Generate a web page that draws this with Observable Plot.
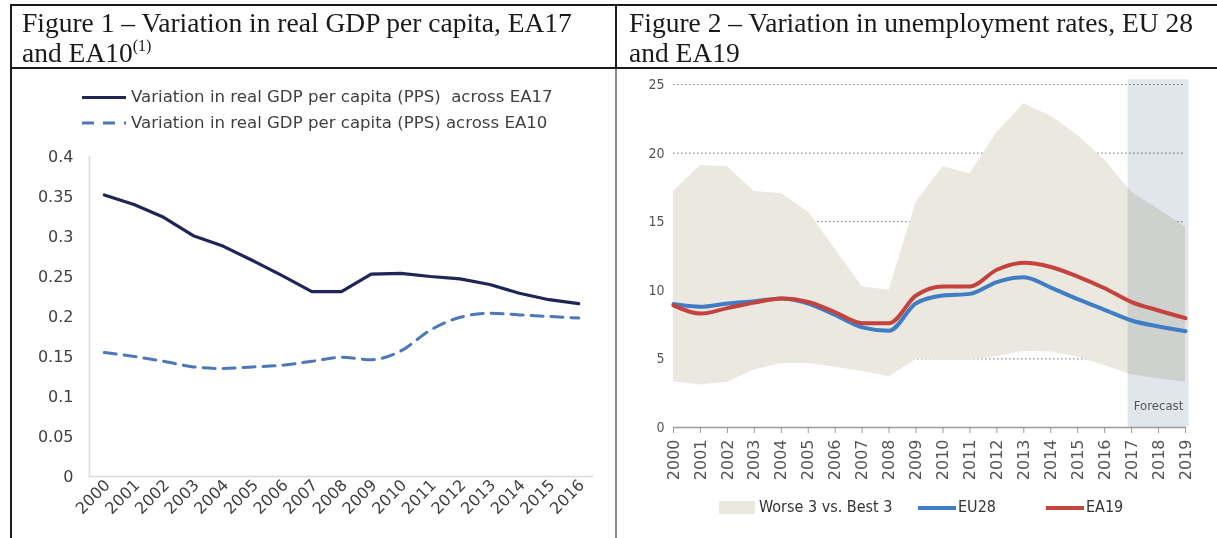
<!DOCTYPE html>
<html><head><meta charset="utf-8">
<script src="https://cdn.jsdelivr.net/npm/d3@7"></script>
<script src="https://cdn.jsdelivr.net/npm/@observablehq/plot@0.6"></script>
<style>
body{margin:0;background:#fff;}
#page{position:relative;width:1217px;height:538px;overflow:hidden;background:#fff;}
.abs{position:absolute;}
.hdr{position:absolute;font-family:"Liberation Serif","Times New Roman",serif;font-size:27.5px;line-height:30px;color:#1a1a1a;white-space:nowrap;}
.sup{font-size:16px;position:relative;top:-11px;line-height:0;}
.lgL{position:absolute;font-family:"DejaVu Sans",Verdana,sans-serif;font-size:16.6px;line-height:20px;color:#404040;white-space:pre;}
.lgR{position:absolute;font-family:"Liberation Sans Narrow","DejaVu Sans Condensed","Roboto",sans-serif;font-size:16px;line-height:20px;color:#333;white-space:pre;}
</style></head>
<body><div id="page"></div>
<script>
// ---------- Figure 1 data ----------
const yearsL = [2000,2001,2002,2003,2004,2005,2006,2007,2008,2009,2010,2011,2012,2013,2014,2015,2016];
const ea17 = [0.352,0.340,0.324,0.301,0.288,0.270,0.251,0.231,0.231,0.253,0.254,0.250,0.247,0.240,0.229,0.221,0.216];
const ea10 = [0.155,0.150,0.144,0.137,0.135,0.137,0.139,0.144,0.149,0.146,0.157,0.183,0.199,0.204,0.202,0.200,0.198];
const yTicksL = [0,0.05,0.1,0.15,0.2,0.25,0.3,0.35,0.4];
const legendL = ["Variation in real GDP per capita (PPS)  across EA17","Variation in real GDP per capita (PPS) across EA10"];

// ---------- Figure 2 data ----------
const yearsR = [2000,2001,2002,2003,2004,2005,2006,2007,2008,2009,2010,2011,2012,2013,2014,2015,2016,2017,2018,2019];
const worst3 = [17.2,19.1,19.0,17.2,17.05,15.7,13.0,10.25,10.0,16.4,19.0,18.5,21.5,23.6,22.7,21.3,19.5,17.15,15.9,14.6];
const best3  = [3.33,3.1,3.3,4.2,4.66,4.66,4.4,4.1,3.7,4.96,4.88,4.88,5.17,5.54,5.5,5.13,4.52,3.84,3.55,3.3];
const eu28 = [9.0,8.8,9.04,9.2,9.4,9.04,8.2,7.3,7.05,9.06,9.62,9.74,10.6,10.95,10.2,9.35,8.58,7.8,7.36,7.02];
const ea19 = [8.9,8.3,8.7,9.1,9.4,9.15,8.4,7.6,7.6,9.62,10.28,10.28,11.5,12.0,11.7,11.0,10.15,9.14,8.53,7.97];
const yTicksR = [0,5,10,15,20,25];
const forecastSpan = [{x1:2016.87, x2:2019.13, y1:0, y2:25.35, label:"Forecast"}];
const legendR = ["Worse 3 vs. Best 3","EU28","EA19"];

const C = {navy:"#1f2557", dash:"#4d78b5", beige:"#ebe8df", blue:"#3f7dc4", red:"#c4433d"};
const page = document.getElementById("page");
function box(css, html, cls){const d=document.createElement("div");d.className=cls||"abs";Object.assign(d.style,css);if(html!=null)d.innerHTML=html;page.appendChild(d);return d;}

// table borders
box({left:"10px",top:"4px",width:"1207px",height:"2px",background:"#1a1a1a"});
box({left:"10px",top:"4px",width:"2px",height:"534px",background:"#1a1a1a"});
box({left:"10px",top:"67px",width:"1207px",height:"2px",background:"#1a1a1a"});
box({left:"615px",top:"4px",width:"2px",height:"65px",background:"#1a1a1a"});
box({left:"615px",top:"69px",width:"2px",height:"469px",background:"#8a8a8a"});

// headers
box({left:"22px",top:"8px"},"Figure 1 – Variation in real GDP per capita, EA17<br>and EA10<span class='sup'>(1)</span>","hdr");
box({left:"629px",top:"8px"},"Figure 2 – Variation in unemployment rates, EU 28<br>and EA19","hdr");

// ---------- Figure 1 ----------
const dL = yearsL.map((y,i)=>({year:y, a:ea17[i], b:ea10[i]}));
const p1 = Plot.plot({
  width:603, height:468, marginLeft:77, marginRight:22, marginTop:86, marginBottom:62,
  style:{fontFamily:"DejaVu Sans, Verdana, sans-serif", fontSize:"16px", color:"#404040", background:"transparent"},
  x:{type:"linear", domain:[1999.5,2016.5]},
  y:{domain:[0,0.4]},
  marks:[
    Plot.ruleX([1999.5],{stroke:"#d9d9d9", strokeWidth:1.5}),
    Plot.ruleY([0],{stroke:"#d9d9d9", strokeWidth:1.5}),
    Plot.axisY({ticks:yTicksL, tickSize:0, tickPadding:16, tickFormat:d3.format("~g"), label:null, fontSize:16}),
    Plot.axisX({ticks:yearsL, tickSize:0, tickPadding:6, tickRotate:-45, tickFormat:d=>String(d), label:null, fontSize:16, dx:3}),
    Plot.line(dL,{x:"year", y:"b", stroke:C.dash, strokeWidth:3, strokeDasharray:"12,8", curve:"monotone-x"}),
    Plot.line(dL,{x:"year", y:"a", stroke:C.navy, strokeWidth:3.2})
  ]
});
p1.style.position="absolute"; p1.style.left="12px"; p1.style.top="70px";
page.appendChild(p1);

// legend 1
box({left:"82px",top:"96px",width:"44px",height:"3px",background:C.navy});
box({left:"82px",top:"113px",width:"44px",height:"20px"},"<svg width='44' height='20'><line x1='0' x2='44' y1='10' y2='10' stroke='"+C.dash+"' stroke-width='3' stroke-dasharray='12,9'/></svg>");
box({left:"131px",top:"87px"},legendL[0],"lgL");
box({left:"131px",top:"113px"},legendL[1],"lgL");

// ---------- Figure 2 ----------
const dR = yearsR.map((y,i)=>({year:y, hi:worst3[i], lo:best3[i], eu:eu28[i], ea:ea19[i]}));
const narrow = "Liberation Sans Narrow, DejaVu Sans Condensed, Roboto, sans-serif";
const p2 = Plot.plot({
  width:600, height:468, marginLeft:56, marginRight:32, marginTop:14, marginBottom:111,
  style:{fontFamily:"DejaVu Sans, sans-serif", fontSize:"16px", color:"#555", background:"transparent"},
  x:{type:"linear", domain:[2000,2019]},
  y:{domain:[0,25]},
  marks:[
    Plot.gridY(yTicksR.filter(d=>d>0),{stroke:"#8c8c8c", strokeOpacity:1, strokeWidth:1.2, strokeDasharray:"1.5,2.5"}),
    Plot.areaY(dR,{x:"year", y1:"lo", y2:"hi", fill:C.beige}),
    Plot.rect(forecastSpan,{x1:"x1", x2:"x2", y1:"y1", y2:"y2", fill:"#e1e6ed", mixBlendMode:"multiply"}),
    Plot.ruleY([0],{stroke:"#9a9a9a", strokeWidth:1.5}),
    Plot.axisY({ticks:yTicksR, tickSize:0, tickPadding:9, label:null, fontFamily:narrow, fontSize:14, fill:"#555"}),
    Plot.axisX({ticks:yearsR, tickSize:6, tickPadding:6, tickRotate:-90, tickFormat:d=>String(d), label:null, stroke:"#9a9a9a", fill:"#555", fontSize:16}),
    Plot.line(dR,{x:"year", y:"eu", stroke:C.blue, strokeWidth:4, curve:"monotone-x"}),
    Plot.line(dR,{x:"year", y:"ea", stroke:C.red, strokeWidth:4, curve:"monotone-x"}),
    Plot.text(forecastSpan,{x:d=>(d.x1+d.x2)/2, text:"label", frameAnchor:"bottom", dy:-18, fontFamily:narrow, fontSize:13, fill:"#555"})
  ]
});
p2.style.position="absolute"; p2.style.left="617px"; p2.style.top="70px";
page.appendChild(p2);

// legend 2
box({left:"719px",top:"501px",width:"36px",height:"13px",background:C.beige});
box({left:"759px",top:"497px"},legendR[0],"lgR");
box({left:"918px",top:"506px",width:"38px",height:"4px",background:C.blue});
box({left:"958px",top:"497px"},legendR[1],"lgR");
box({left:"1046px",top:"506px",width:"38px",height:"4px",background:C.red});
box({left:"1086px",top:"497px"},legendR[2],"lgR");
</script>
</body></html>
